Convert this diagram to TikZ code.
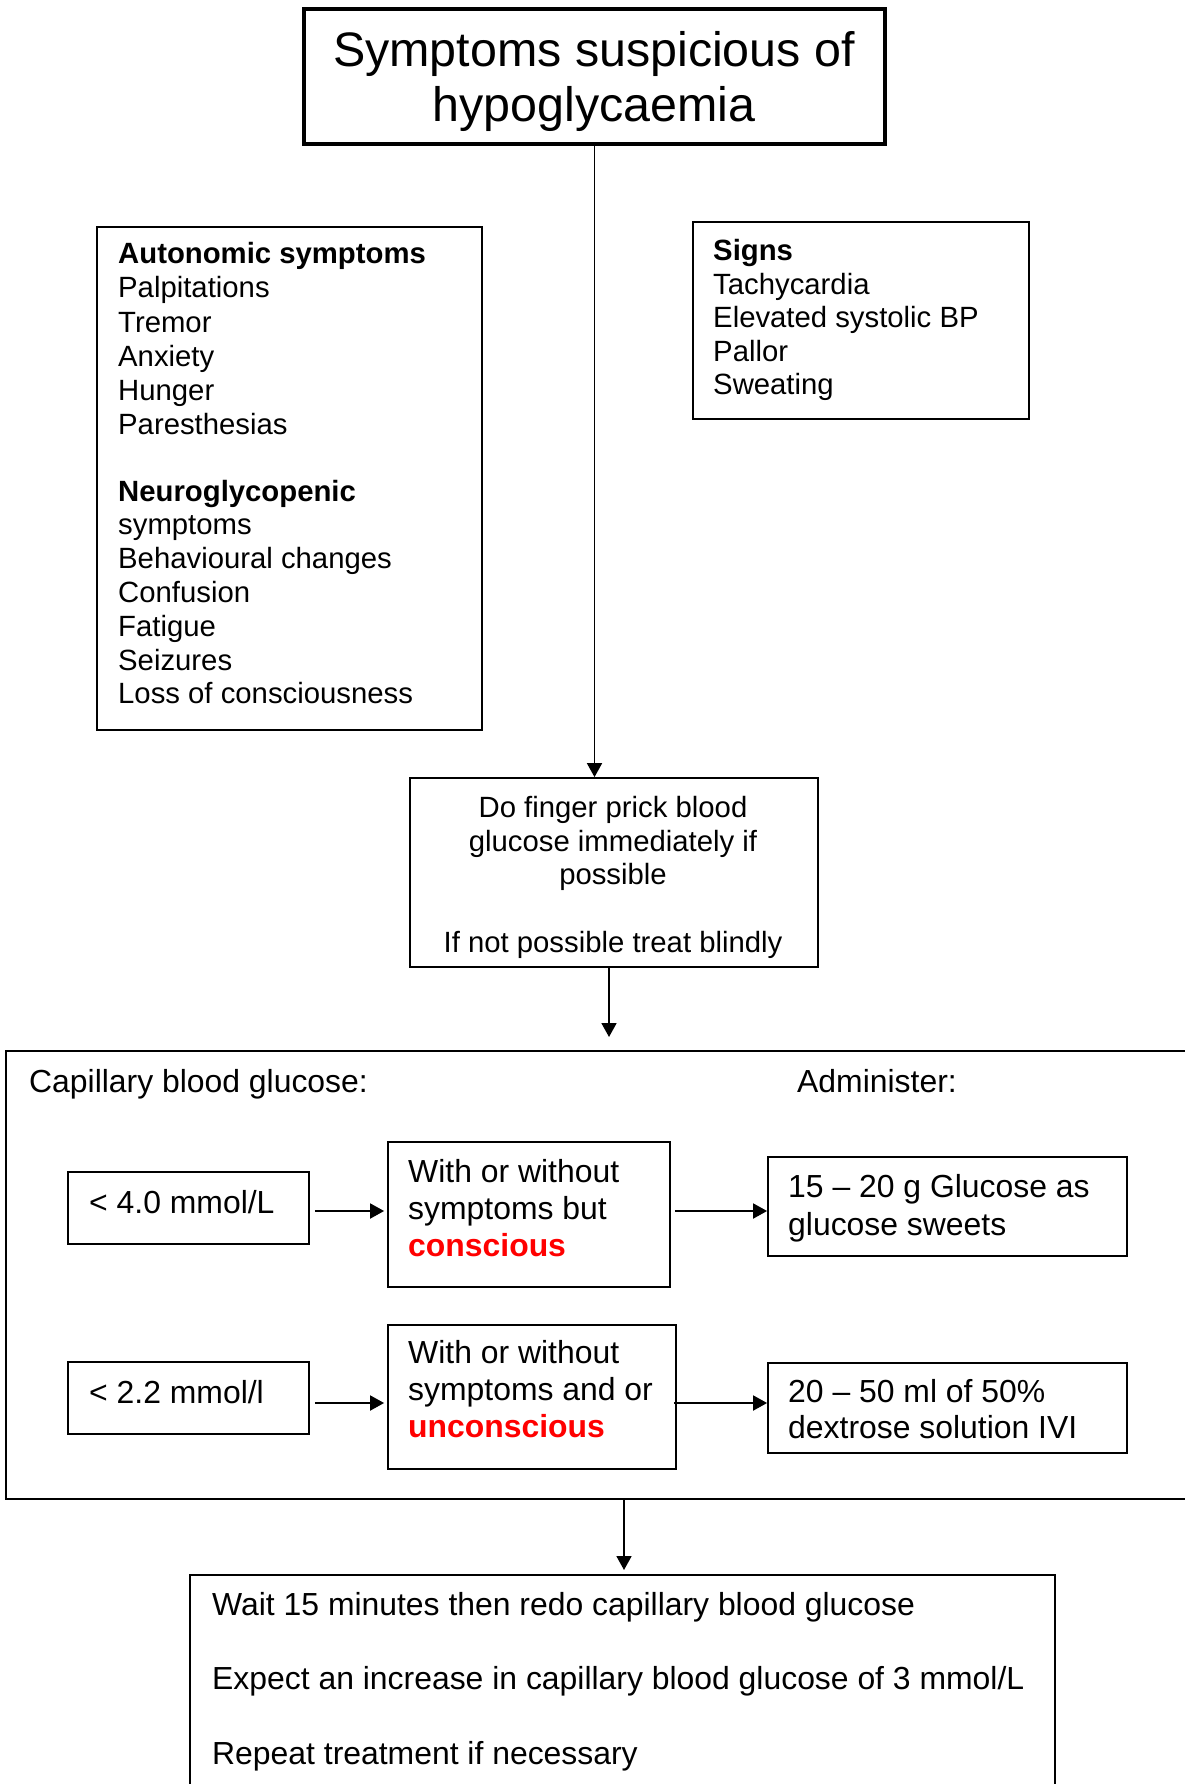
\documentclass[tikz,border=0pt]{standalone}
\usepackage{fontspec}
\setmainfont{Liberation Sans}
\usetikzlibrary{arrows.meta}
\begin{document}
\begin{tikzpicture}[x=1pt,y=-1pt,
  box/.style={draw, inner sep=0pt, line width=1.8pt},
  arr/.style={line width=1.8pt, -{Triangle[length=14pt,width=15pt]}},
  ts/.style={inner sep=0pt, anchor=base west, font=\fontsize{29.3}{34}\selectfont},
  tm/.style={inner sep=0pt, anchor=base west, font=\fontsize{31.9}{37}\selectfont},
  tc/.style={inner sep=0pt, anchor=base, font=\fontsize{29.3}{34}\selectfont},
  tt/.style={inner sep=0pt, anchor=base, font=\fontsize{48.4}{56}\selectfont}]
\useasboundingbox (0,0) rectangle (1184,1784);
\fill[white] (0,0) rectangle (1184,1784);
% boxes
\node[box, line width=3.4pt, minimum width=581pt, minimum height=135pt] (title) at (594.5,76.5) {};
\node[box, minimum width=385pt, minimum height=503pt] (auto) at (289.5,478.5) {};
\node[box, minimum width=336pt, minimum height=197pt] (signs) at (861,320.5) {};
\node[box, minimum width=408pt, minimum height=189pt] (finger) at (614,872.5) {};
\node[box, minimum width=1194pt, minimum height=448pt] (big) at (603,1275) {};
\node[box, minimum width=241pt, minimum height=72pt] (lt4) at (188.5,1208) {};
\node[box, minimum width=282pt, minimum height=145pt] (cons) at (529,1214.5) {};
\node[box, minimum width=359pt, minimum height=99pt] (gluc) at (947.5,1206.5) {};
\node[box, minimum width=241pt, minimum height=72pt] (lt22) at (188.5,1398) {};
\node[box, minimum width=288pt, minimum height=144pt] (uncons) at (532,1397) {};
\node[box, minimum width=359pt, minimum height=90pt] (dext) at (947.5,1408) {};
\node[box, minimum width=865pt, minimum height=235pt] (final) at (622.5,1692.5) {};
% title text
\node[tt] (t1) at (594,67) {Symptoms suspicious of};
\node[tt] (t2) at (594,122) {hypoglycaemia};
% autonomic
\node[ts, font=\fontsize{29.3}{34}\selectfont\bfseries] (a0) at (118,264) {Autonomic symptoms};
\foreach \t [count=\i] in {Palpitations,Tremor,Anxiety,Hunger,Paresthesias}
  \node[ts] (a\i) at (118,264+34*\i) {\t};
\node[ts, font=\fontsize{29.3}{34}\selectfont\bfseries] (n0) at (118,501) {Neuroglycopenic};
\foreach \t [count=\i] in {symptoms,Behavioural changes,Confusion,Fatigue,Seizures,Loss of consciousness}
  \node[ts] (n\i) at (118,501+33.8*\i) {\t};
% signs
\node[ts, font=\fontsize{29.3}{34}\selectfont\bfseries] (s0) at (713,260.5) {Signs};
\foreach \t [count=\i] in {Tachycardia,Elevated systolic BP,Pallor,Sweating}
  \node[ts] (s\i) at (713,260.5+33.6*\i) {\t};
% finger
\node[tc] (f1) at (613,817) {Do finger prick blood};
\node[tc] (f2) at (613,851) {glucose immediately if};
\node[tc] (f3) at (613,884.5) {possible};
\node[tc] (f4) at (613,952) {If not possible treat blindly};
% big box texts
\node[tm] (cap) at (29,1092) {Capillary blood glucose:};
\node[tm] (adm) at (797,1092) {Administer:};
\node[tm] (l4) at (89,1213) {< 4.0 mmol/L};
\node[tm] (c1) at (408,1182) {With or without};
\node[tm] (c2) at (408,1219) {symptoms but};
\node[tm, text=red, font=\fontsize{31.9}{37}\selectfont\bfseries] (c3) at (408,1256) {conscious};
\node[tm] (g1) at (788,1197) {15 – 20 g Glucose as};
\node[tm] (g2) at (788,1235) {glucose sweets};
\node[tm] (l2) at (89,1403) {< 2.2 mmol/l};
\node[tm] (u1) at (408,1363) {With or without};
\node[tm] (u2) at (408,1400) {symptoms and or};
\node[tm, text=red, font=\fontsize{31.9}{37}\selectfont\bfseries] (u3) at (408,1437) {unconscious};
\node[tm] (d1) at (788,1402) {20 – 50 ml of 50\%};
\node[tm] (d2) at (788,1438) {dextrose solution IVI};
% final texts
\node[tm] (w1) at (212,1615) {Wait 15 minutes then redo capillary blood glucose};
\node[tm] (w2) at (212,1689) {Expect an increase in capillary blood glucose of 3 mmol/L};
\node[tm] (w3) at (212,1764) {Repeat treatment if necessary};
% helper coordinates
\coordinate (row1) at (0,1211);
\coordinate (row2) at (0,1403);
\coordinate (a2end) at (609,1037);
\coordinate (a3x) at (624,0);
\coordinate (a3end) at (624,1570);
% connectors
\draw[arr] (title.south) -- (title.south |- finger.north);
\draw[arr] (finger.south -| a2end) -- (a2end);
\draw[arr] ([xshift=5pt]lt4.east |- row1) -- ([xshift=-3pt]cons.west |- row1);
\draw[arr] ([xshift=4pt]cons.east |- row1) -- (gluc.west |- row1);
\draw[arr] ([xshift=5pt]lt22.east |- row2) -- ([xshift=-3pt]uncons.west |- row2);
\draw[arr] ([xshift=-3pt]uncons.east |- row2) -- (dext.west |- row2);
\draw[arr] (big.south -| a3x) -- (a3end);
\end{tikzpicture}
\end{document}
